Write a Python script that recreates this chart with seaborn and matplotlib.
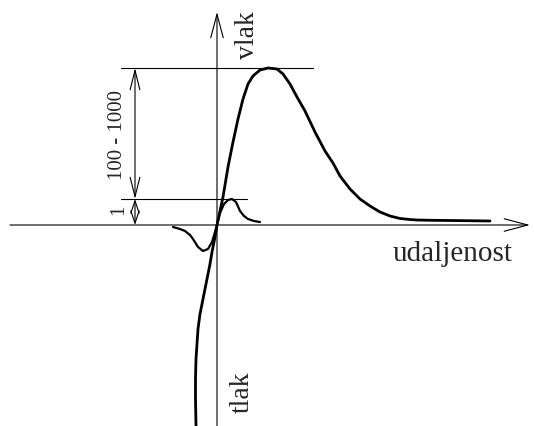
import matplotlib
matplotlib.use("Agg")
import matplotlib.pyplot as plt
import seaborn as sns
import pandas as pd

# Stress curve far from the origin (distance, stress)
big_x = [-21, -21.5, -21.5, -21, -20, -19, -17, -15, -12, -10, -7, -5, -2, 0, 3, 6, 9, 11,
         16, 21, 26, 31, 36, 43, 51, 60, 66, 73, 80, 88, 98, 108, 116, 123, 133, 143,
         153, 163, 173, 183, 193, 200, 215, 233, 273]
big_y = [-201, -174, -154, -134, -119, -104, -89, -79, -64, -54, -39, -27, -12, 0, 14, 28, 46, 58,
         83, 106, 126, 141, 149, 155, 157, 156, 151, 141, 128, 114, 93, 74, 62, 49, 36, 26,
         19, 13, 9, 6.5, 5.5, 5, 4.7, 4.5, 4]

# Small oscillating curve near the origin
small_x = [-44, -37, -32, -27, -24, -19, -14, -9, -5, -2, 0, 3, 7, 11, 15, 19, 23, 27, 31, 37, 43]
small_y = [-2, -4, -6, -10, -14, -22, -26, -24, -17, -7, 0, 12, 21, 25, 26, 23, 14, 9, 6, 4, 3]

# Dimension levels
level_top = 157
level_one = 26
dim_labels = ["100 - 1000", "1"]
axis_labels = ["vlak", "udaljenost", "tlak"]

sns.set_theme(style="white")
plt.rcParams["font.family"] = ["Liberation Serif", "DejaVu Serif"]

fig = plt.figure(figsize=(5.34, 4.27), dpi=100)
ax = fig.add_axes([0, 0, 1, 1])
ax.set_xlim(-217, 317)
ax.set_ylim(-201, 226)
ax.axis("off")

thin = 0.8
ax_arrow = dict(arrowstyle="->,head_length=1.7,head_width=0.45", color="black",
                lw=thin, shrinkA=0, shrinkB=0, mutation_scale=10)

# coordinate axes
ax.annotate("", xy=(313, 0), xytext=(-207, 0), arrowprops=ax_arrow)
ax.annotate("", xy=(0, 213), xytext=(0, -201), arrowprops=ax_arrow)

# curves
big = pd.DataFrame({"x": big_x, "y": big_y})
small = pd.DataFrame({"x": small_x, "y": small_y})
sns.lineplot(data=big, x="x", y="y", sort=False, estimator=None, color="black",
             lw=2.0, ax=ax)
sns.lineplot(data=small, x="x", y="y", sort=False, estimator=None, color="black",
             lw=1.6, ax=ax)
for line in ax.lines:
    line.set_solid_joinstyle("round")

# dimension reference lines
ax.plot([-96, 96], [level_top, level_top], color="black", lw=thin)
ax.plot([-96, 30], [level_one, level_one], color="black", lw=thin)

dim_arrow = dict(arrowstyle="<->,head_length=1.4,head_width=0.35", color="black",
                 lw=thin, shrinkA=0, shrinkB=0, mutation_scale=10)
ax.annotate("", xy=(-82, level_top), xytext=(-82, level_one), arrowprops=dim_arrow)
dim_arrow_small = dict(dim_arrow, arrowstyle="<->,head_length=0.9,head_width=0.3")
ax.annotate("", xy=(-82, level_one), xytext=(-82, 0), arrowprops=dim_arrow_small)

ax.text(-99, (level_top + level_one) / 2, dim_labels[0], rotation=90,
        ha="center", va="center", fontsize=15)
ax.text(-98, level_one / 2 + 3, dim_labels[1], rotation=90,
        ha="center", va="center", fontsize=15)

ax.text(30, 191, axis_labels[0], rotation=90, ha="center", va="center", fontsize=20)
ax.text(236, -28, axis_labels[1], ha="center", va="center", fontsize=21)
ax.text(25, -166, axis_labels[2], rotation=90, ha="center", va="center", fontsize=20)

fig.savefig("out.png", dpi=100)
